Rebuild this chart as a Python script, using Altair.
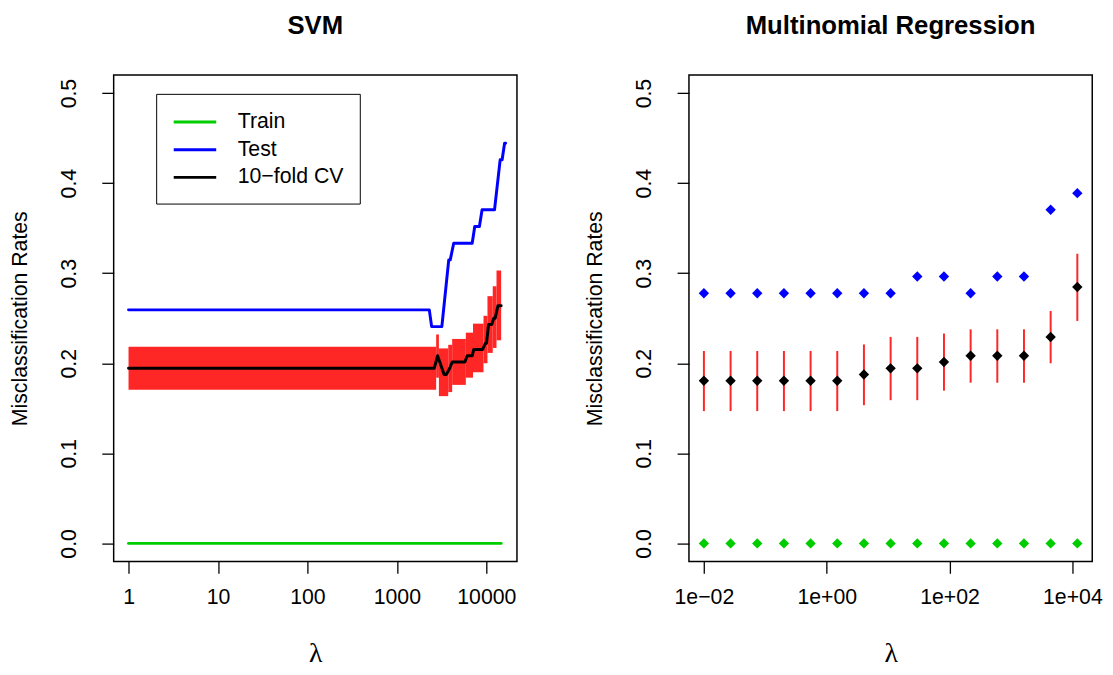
import altair as alt
import pandas as pd

# ---------------- SVM: misclassification rate against lambda ----------------
svm_train_lambda = [1, 14650]
svm_train_rate = [0.0, 0.0]

svm_test_lambda = [1, 2304, 2449, 3183, 3802, 3951, 4319, 6950, 7426, 8370,
                   8966, 12350, 14280, 15020, 16010, 16430]
svm_test_rate = [0.2593, 0.2593, 0.2407, 0.2407, 0.3148, 0.3148, 0.3333, 0.3333,
                 0.3519, 0.3519, 0.3704, 0.3704, 0.4259, 0.4259, 0.4444, 0.4444]

svm_cv_lambda = [1, 2617, 2852, 3375, 3568, 3901, 4157, 5757, 6120, 6950,
                 7245, 9100, 9750, 10050, 10600, 11500, 12100, 12570, 13470, 14650]
svm_cv_rate = [0.1944, 0.1944, 0.2083, 0.1875, 0.1875, 0.1944, 0.2014, 0.2014,
               0.2083, 0.2083, 0.2153, 0.2153, 0.2222, 0.2222, 0.2431, 0.2431,
               0.2500, 0.2500, 0.2639, 0.2639]

# CV +/- one standard error, piecewise over lambda ranges
svm_band_from = [1, 2750, 2950, 3750, 4150, 5900, 7100, 9300, 10300, 11800, 13000]
svm_band_to = [2750, 2950, 3750, 4150, 5900, 7100, 9300, 10300, 11800, 13000, 14650]
svm_band_lo = [0.1707, 0.1840, 0.1635, 0.1680, 0.1760, 0.1840, 0.1900, 0.2000,
               0.2115, 0.2170, 0.2255]
svm_band_hi = [0.2183, 0.2320, 0.2165, 0.2205, 0.2270, 0.2340, 0.2440, 0.2527,
               0.2745, 0.2855, 0.3030]

# ---------------- Multinomial regression ----------------
mr_lambda = [0.01, 0.0272, 0.0739, 0.2009, 0.546, 1.484, 4.034, 10.97, 29.81,
             81.03, 220.3, 598.7, 1627, 4424, 12026]
mr_train = [0.0, 0.0, 0.0, 0.0, 0.0, 0.0, 0.0, 0.0, 0.0, 0.0, 0.0, 0.0, 0.0, 0.0, 0.0]
mr_test = [0.2778, 0.2778, 0.2778, 0.2778, 0.2778, 0.2778, 0.2778, 0.2778,
           0.2963, 0.2963, 0.2778, 0.2963, 0.2963, 0.3704, 0.3889]
mr_cv = [0.1806, 0.1806, 0.1806, 0.1806, 0.1806, 0.1806, 0.1875, 0.1944,
         0.1944, 0.2014, 0.2083, 0.2083, 0.2083, 0.2292, 0.2847]
mr_cv_lo = [0.1469, 0.1469, 0.1469, 0.1469, 0.1469, 0.1469, 0.1535, 0.1590,
            0.1590, 0.1696, 0.1784, 0.1784, 0.1784, 0.2000, 0.2470]
mr_cv_hi = [0.2136, 0.2136, 0.2136, 0.2136, 0.2136, 0.2136, 0.2209, 0.2293,
            0.2293, 0.2330, 0.2377, 0.2377, 0.2377, 0.2580, 0.3216]

# ---------------- axes ----------------
y_ticks = [0.0, 0.1, 0.2, 0.3, 0.4, 0.5]
svm_ticks = [1, 10, 100, 1000, 10000]
mr_ticks = [0.01, 1, 100, 10000]
mr_tick_labels = ["1e\u221202", "1e+00", "1e+02", "1e+04"]
series_names = ["Train", "Test", "10\u2212fold CV"]
series_colors = ["#00cd00", "#0000ff", "#000000"]

FONT = "Liberation Sans"
FS = 21.5
RED = "#ff2626"
W, H = 408, 492


def label_expr(ticks, labels):
    expr = ""
    for t, lab in zip(ticks[:-1], labels[:-1]):
        expr += f"datum.value < {t * 3} ? '{lab}' : "
    return expr + f"'{labels[-1]}'"


def y_axis():
    return alt.Axis(
        title="Misclassification Rates", values=y_ticks, format=".1f",
        labelAngle=270, labelAlign="center", labelBaseline="bottom", labelPadding=22,
        tickSize=12, tickWidth=1.3, tickColor="black", domain=False, grid=False,
        labelFont=FONT, labelFontSize=FS, labelColor="black",
        titleFont=FONT, titleFontSize=FS, titleFontWeight="normal", titleColor="black",
        titleAngle=270, titleAlign="center", titleBaseline="middle",
        titleX=-94, titleY=H / 2,
    )


def x_axis(ticks, **kw):
    return alt.Axis(
        title="\u03bb", values=ticks, labelFlush=False, labelOverlap=False,
        labelBaseline="top", labelPadding=14,
        tickSize=12, tickWidth=1.3, tickColor="black", domain=False, grid=False,
        labelFont=FONT, labelFontSize=FS, labelColor="black",
        titleFont="Liberation Serif", titleFontSize=28, titleFontWeight="normal",
        titleColor="black", titleBaseline="middle", titleX=W / 2, titleY=93, **kw,
    )


y_scale = alt.Scale(domain=[-0.02, 0.52], nice=False, zero=False)
svm_x_scale = alt.Scale(type="log", domain=[0.682, 22010], nice=False)
mr_x_scale = alt.Scale(type="log", domain=[0.00571, 21040], nice=False)


def panel_title(text):
    return alt.TitleParams(text, font=FONT, fontSize=26, fontWeight="bold",
                           color="black", anchor="middle", frame="group",
                           baseline="alphabetic", offset=16)


# ---------------- SVM panel ----------------
band_df = pd.DataFrame({"lo_lambda": svm_band_from, "hi_lambda": svm_band_to,
                        "lo": svm_band_lo, "hi": svm_band_hi})
lines_df = pd.concat([
    pd.DataFrame({"lambda": svm_train_lambda, "rate": svm_train_rate, "series": series_names[0]}),
    pd.DataFrame({"lambda": svm_test_lambda, "rate": svm_test_rate, "series": series_names[1]}),
    pd.DataFrame({"lambda": svm_cv_lambda, "rate": svm_cv_rate, "series": series_names[2]}),
], ignore_index=True)

band = alt.Chart(band_df).mark_rect(color=RED).encode(
    x=alt.X("lo_lambda:Q", scale=svm_x_scale, axis=x_axis(svm_ticks, format="d")),
    x2="hi_lambda:Q",
    y=alt.Y("lo:Q", scale=y_scale, axis=y_axis()),
    y2="hi:Q",
)

lines = alt.Chart(lines_df).mark_line(strokeWidth=3, strokeCap="round", strokeJoin="round").encode(
    x=alt.X("lambda:Q", scale=svm_x_scale, axis=x_axis(svm_ticks, format="d")),
    y=alt.Y("rate:Q", scale=y_scale, axis=y_axis()),
    color=alt.Color(
        "series:N",
        scale=alt.Scale(domain=series_names, range=series_colors),
        sort=series_names,
        legend=alt.Legend(
            title=None, orient="none", legendX=43, legendY=19, direction="vertical",
            symbolType="M-1,0H3", symbolSize=462, symbolStrokeWidth=3,
            labelFont=FONT, labelFontSize=FS, labelColor="black", labelOffset=41.5,
            rowPadding=5, padding=16, strokeColor="black", fillColor="white",
        ),
    ),
)

svm = alt.layer(band, lines).properties(width=W, height=H, title=panel_title("SVM"))

# ---------------- Multinomial regression panel ----------------
mr_df = pd.DataFrame({"lambda": mr_lambda, "train": mr_train, "test": mr_test,
                      "cv": mr_cv, "lo": mr_cv_lo, "hi": mr_cv_hi})
mr_x = alt.X("lambda:Q", scale=mr_x_scale,
             axis=x_axis(mr_ticks, labelExpr=label_expr(mr_ticks, mr_tick_labels)))
diamond = dict(shape="diamond", filled=True, size=110, opacity=1)

mr_train_pts = alt.Chart(mr_df).mark_point(color=series_colors[0], **diamond).encode(
    x=mr_x, y=alt.Y("train:Q", scale=y_scale, axis=y_axis()))
mr_test_pts = alt.Chart(mr_df).mark_point(color=series_colors[1], **diamond).encode(
    x=mr_x, y=alt.Y("test:Q", scale=y_scale, axis=y_axis()))
mr_bars = alt.Chart(mr_df).mark_rule(color=RED, strokeWidth=2).encode(
    x=mr_x, y=alt.Y("lo:Q", scale=y_scale, axis=y_axis()), y2="hi:Q")
mr_cv_pts = alt.Chart(mr_df).mark_point(color=series_colors[2], **diamond).encode(
    x=mr_x, y=alt.Y("cv:Q", scale=y_scale, axis=y_axis()))

mr = alt.layer(mr_train_pts, mr_test_pts, mr_bars, mr_cv_pts).properties(
    width=W, height=H, title=panel_title("Multinomial Regression"))

chart = alt.hconcat(svm, mr, spacing=174, bounds="flush").properties(
    padding={"left": 9, "top": 8, "right": 10, "bottom": 5},
    background="white",
).configure_view(stroke="black", strokeWidth=1.5)

chart.save("out.html", embed_options={"renderer": "svg", "actions": False})
